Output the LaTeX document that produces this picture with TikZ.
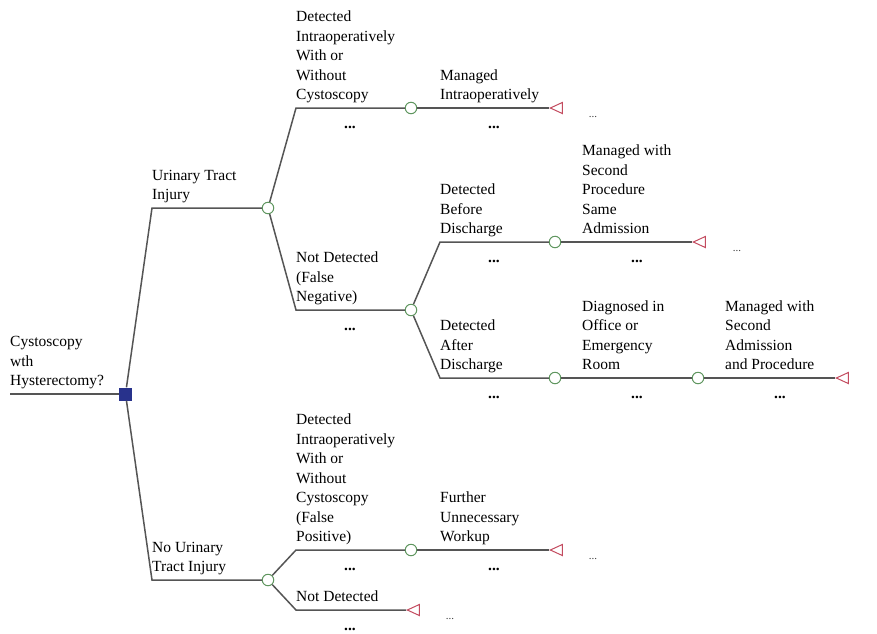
\documentclass[tikz,border=0pt]{standalone}
\usepackage{fontspec}
\setmainfont{Liberation Serif}
\usetikzlibrary{shapes.geometric}
\definecolor{branchgray}{RGB}{85,85,85}
\definecolor{chancegreen}{RGB}{95,150,95}
\definecolor{terminalred}{RGB}{195,75,95}
\definecolor{decisionblue}{RGB}{40,50,140}
\tikzset{
  decision/.style={rectangle, fill=decisionblue, minimum size=13pt, inner sep=0pt},
  chance/.style={circle, draw=chancegreen, fill=white, line width=1pt, minimum size=11.5pt, inner sep=0pt},
  terminal/.style={isosceles triangle, isosceles triangle stretches, shape border rotate=180,
    draw=terminalred, fill=white, line width=1pt, minimum width=11pt, minimum height=12pt,
    inner sep=0pt, anchor=apex},
  branch/.style={draw=branchgray, line width=1.5pt},
  lbl/.style={anchor=south west, align=left, inner sep=0pt, text depth=4pt, yshift=4pt,
    font=\fontsize{15.5}{19.5}\selectfont},
  more/.style={inner sep=0pt, font=\fontsize{15.5}{19.5}\selectfont\bfseries},
  after/.style={inner sep=0pt, text=black!75, font=\fontsize{11}{13}\selectfont}
}
\begin{document}
\begin{tikzpicture}[x=1pt,y=-1pt]
\useasboundingbox (0,0) rectangle (877,633);
% decision, chance and terminal nodes
\coordinate (root) at (10,394);
\node[decision] (dec) at (125.5,394) {};
\node[chance] (c1) at (268,208) {};
\node[chance] (c2) at (268,580) {};
\node[chance] (c3) at (411,108) {};
\node[chance] (c4) at (411,310) {};
\node[chance] (c5) at (555,242) {};
\node[chance] (c6) at (555,378) {};
\node[chance] (c7) at (698,378) {};
\node[chance] (c8) at (411,550) {};
\node[terminal] (t1) at (549,108) {};
\node[terminal] (t2) at (692,242) {};
\node[terminal] (t3) at (835,378) {};
\node[terminal] (t4) at (406,610) {};
\node[terminal] (t5) at (549,550) {};
% where the branches bend
\coordinate (k1) at (152,208);  \coordinate (k2) at (152,580);
\coordinate (k3) at (296,108);  \coordinate (k4) at (296,310);
\coordinate (k5) at (440,108);  \coordinate (k6) at (440,242);
\coordinate (k7) at (440,378);  \coordinate (k8) at (582,242);
\coordinate (k9) at (582,378);  \coordinate (k10) at (725,378);
\coordinate (k11) at (296,550); \coordinate (k12) at (296,610);
\coordinate (k13) at (440,550);
% branches
\draw[branch] (root) -- (dec);
\draw[branch] (dec) -- (k1) -- (c1);
\draw[branch] (dec) -- (k2) -- (c2);
\draw[branch] (c1) -- (k3) -- (c3);
\draw[branch] (c1) -- (k4) -- (c4);
\draw[branch] (c3) -- (k5) -- (t1);
\draw[branch] (c4) -- (k6) -- (c5);
\draw[branch] (c4) -- (k7) -- (c6);
\draw[branch] (c5) -- (k8) -- (t2);
\draw[branch] (c6) -- (k9) -- (c7);
\draw[branch] (c7) -- (k10) -- (t3);
\draw[branch] (c2) -- (k11) -- (c8);
\draw[branch] (c2) -- (k12) -- (t4);
\draw[branch] (c8) -- (k13) -- (t5);
% labels
\node[lbl] (l0) at (root) {Cystoscopy\\wth\\Hysterectomy?};
\node[lbl] (l1) at (k1) {Urinary Tract\\Injury};
\node[lbl] (l2) at (k2) {No Urinary\\Tract Injury};
\node[lbl] (l3) at (k3) {Detected\\Intraoperatively\\With or\\Without\\Cystoscopy};
\node[lbl] (l4) at (k4) {Not Detected\\(False\\Negative)};
\node[lbl] (l5) at (k5) {Managed\\Intraoperatively};
\node[lbl] (l6) at (k6) {Detected\\Before\\Discharge};
\node[lbl] (l7) at (k7) {Detected\\After\\Discharge};
\node[lbl] (l8) at (k8) {Managed with\\Second\\Procedure\\Same\\Admission};
\node[lbl] (l9) at (k9) {Diagnosed in\\Office or\\Emergency\\Room};
\node[lbl] (l10) at (k10) {Managed with\\Second\\Admission\\and Procedure};
\node[lbl] (l11) at (k11) {Detected\\Intraoperatively\\With or\\Without\\Cystoscopy\\(False\\Positive)};
\node[lbl] (l12) at (k12) {Not Detected};
\node[lbl] (l13) at (k13) {Further\\Unnecessary\\Workup};
% dots under the branches and after the terminals
\foreach \x/\y [count=\i] in {350/127.5,494/127.5,350/329.5,494/261.5,637/261.5,494/397.5,
  637/397.5,780/397.5,350/569.5,494/569.5,350/629.5}
  \node[more] (m\i) at (\x,\y) {...};
\foreach \x/\y [count=\i] in {593/117,737/251,450/619,593/559}
  \node[after] (a\i) at (\x,\y) {...};
\end{tikzpicture}
\end{document}
